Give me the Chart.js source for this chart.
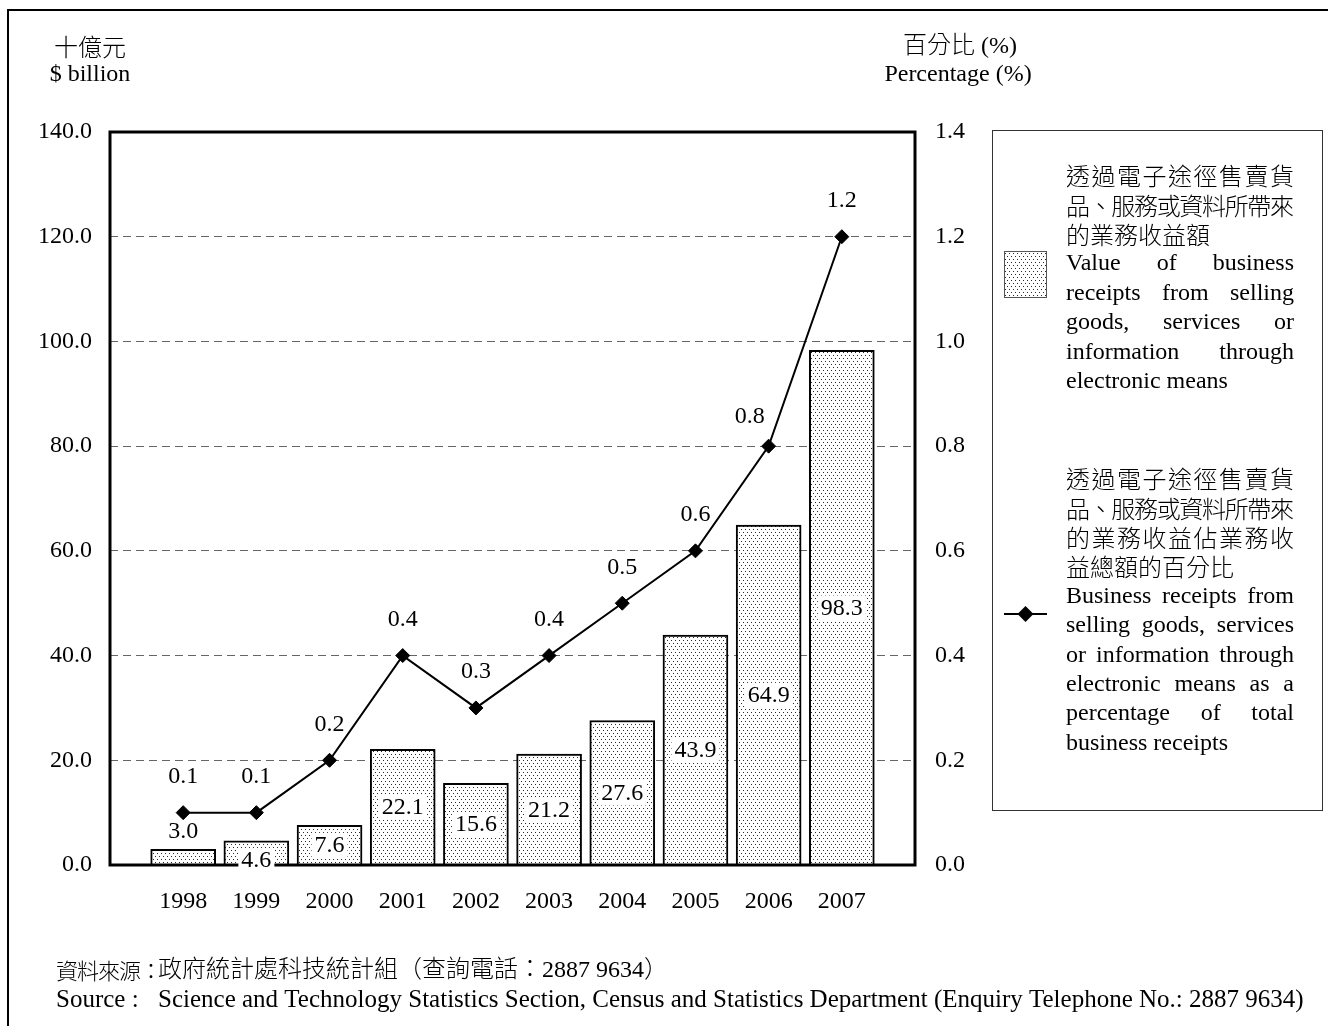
<!DOCTYPE html>
<html>
<head>
<meta charset="utf-8">
<script src="https://cdn.jsdelivr.net/npm/chart.js@4/dist/chart.umd.min.js"></script>
<style>
  html, body { margin: 0; padding: 0; background: #fff; }
  #wrap { width: 1328px; height: 1026px; position: relative; }
</style>
</head>
<body>
<div id="wrap"><canvas id="ecChart"></canvas></div>
<script>
// Business receipts from e-commerce sales, 1998-2007
const years = ['1998', '1999', '2000', '2001', '2002', '2003', '2004', '2005', '2006', '2007'];
const receiptsValue = [3.0, 4.6, 7.6, 22.1, 15.6, 21.2, 27.6, 43.9, 64.9, 98.3];   // $ billion
const receiptsShare = [0.1, 0.1, 0.2, 0.4, 0.3, 0.4, 0.5, 0.6, 0.8, 1.2];          // %

const leftAxis = { min: 0, max: 140, step: 20 };
const rightAxis = { min: 0, max: 1.4, step: 0.2 };

const leftTitle = ['十億元', '$ billion'];
const rightTitle = ['百分比 (%)', 'Percentage (%)'];

const barLegendZh = ['透過電子途徑售賣貨', '品、服務或資料所帶來', '的業務收益額'];
const barLegendEn = ['Value of business', 'receipts from selling', 'goods, services or', 'information through', 'electronic means'];
const lineLegendZh = ['透過電子途徑售賣貨', '品、服務或資料所帶來', '的業務收益佔業務收', '益總額的百分比'];
const lineLegendEn = ['Business receipts from', 'selling goods, services', 'or information through', 'electronic means as a', 'percentage of total', 'business receipts'];

const sourceZh = ['資料來源：', '政府統計處科技統計組（查詢電話：2887 9634）'];
const sourceEn = ['Source :', 'Science and Technology Statistics Section, Census and Statistics Department (Enquiry Telephone No.: 2887 9634)'];

const SERIF = '"Liberation Serif", "Noto Sans CJK TC", serif';
const CJK = '"Noto Sans CJK TC", "Liberation Serif", sans-serif';
const FS = 24;

// blank slot at each end so the years sit one step in from the frame
const labels = ['', ...years, ''];
const pad = arr => [null, ...arr, null];

// the 2006 percentage label sits left of its point, clear of the rising line
const lineLabelNudge = { 9: [-19, 7] };

function makeDots() {
  const c = document.createElement('canvas');
  c.width = 4; c.height = 6;
  const g = c.getContext('2d');
  g.fillStyle = '#fff';
  g.fillRect(0, 0, 4, 6);
  g.fillStyle = '#2a2a2a';
  g.fillRect(1, 1, 1, 1);
  g.fillRect(3, 4, 1, 1);
  return g.createPattern(c, 'repeat');
}
const dots = makeDots();

function drawJustified(ctx, tokens, x0, x1, y) {
  const widths = tokens.map(t => ctx.measureText(t).width);
  const total = widths.reduce((a, b) => a + b, 0);
  const gap = tokens.length > 1 ? (x1 - x0 - total) / (tokens.length - 1) : 0;
  let x = x0;
  tokens.forEach((t, i) => {
    ctx.fillText(t, x, y);
    x += widths[i] + gap;
  });
}

function drawParagraph(ctx, lines, isCjk, x0, x1, y0, lh) {
  lines.forEach((line, i) => {
    const y = y0 + i * lh;
    if (i === lines.length - 1) {
      ctx.fillText(line, x0, y);
    } else {
      drawJustified(ctx, isCjk ? Array.from(line) : line.split(' '), x0, x1, y);
    }
  });
}

const decorations = {
  id: 'decorations',
  afterDraw(chart) {
    const ctx = chart.ctx;
    const area = chart.chartArea;
    ctx.save();

    // outer frame (top and left edges only)
    ctx.strokeStyle = '#000';
    ctx.lineWidth = 2;
    ctx.beginPath();
    ctx.moveTo(8, 1026);
    ctx.lineTo(8, 10);
    ctx.lineTo(1328, 10);
    ctx.stroke();

    // plot box
    ctx.lineWidth = 3;
    ctx.strokeRect(area.left, area.top, area.right - area.left, area.bottom - area.top);

    // bar value labels
    ctx.font = FS + 'px ' + SERIF;
    ctx.textAlign = 'center';
    ctx.textBaseline = 'middle';
    const bars = chart.getDatasetMeta(0).data;
    bars.forEach((bar, i) => {
      const v = chart.data.datasets[0].data[i];
      if (v == null) return;
      const txt = v.toFixed(1);
      const h = bar.base - bar.y;
      if (h < 20) {
        ctx.fillStyle = '#000';
        ctx.fillText(txt, bar.x, bar.y - 18);
        return;
      }
      const y = Math.max((bar.y + bar.base) / 2, bar.y + 19);
      const w = ctx.measureText(txt).width;
      ctx.fillStyle = '#fff';
      ctx.fillRect(bar.x - w / 2 - 3, y - 12, w + 6, 25);
      ctx.fillStyle = '#000';
      ctx.fillText(txt, bar.x, y + 1);
    });

    // line value labels
    const pts = chart.getDatasetMeta(1).data;
    pts.forEach((p, i) => {
      const v = chart.data.datasets[1].data[i];
      if (v == null) return;
      const [dx, dy] = lineLabelNudge[i] || [0, 0];
      ctx.fillText(v.toFixed(1), p.x + dx, p.y - 36 + dy);
    });

    // axis titles
    ctx.font = '300 ' + FS + 'px ' + CJK;
    ctx.fillText(leftTitle[0], 90, 47);
    ctx.font = '300 ' + FS + 'px ' + SERIF;
    ctx.fillText(rightTitle[0], 960, 47);
    ctx.font = FS + 'px ' + SERIF;
    ctx.fillText(leftTitle[1], 90, 75);
    ctx.fillText(rightTitle[1], 958, 75);

    // legend box
    ctx.lineWidth = 1;
    ctx.strokeStyle = '#333';
    ctx.strokeRect(992.5, 130.5, 330, 680);

    ctx.textAlign = 'left';
    const lx0 = 1066, lx1 = 1294, lh = 29.4;

    ctx.font = '300 ' + FS + 'px ' + CJK;
    drawParagraph(ctx, barLegendZh, true, lx0, lx1, 176, lh);
    ctx.font = FS + 'px ' + SERIF;
    drawParagraph(ctx, barLegendEn, false, lx0, lx1, 176 + 3 * lh, lh);

    ctx.fillStyle = dots;
    ctx.fillRect(1004, 251, 43, 47);
    ctx.strokeStyle = '#555';
    ctx.strokeRect(1004.5, 251.5, 42, 46);

    ctx.fillStyle = '#000';
    ctx.font = '300 ' + FS + 'px ' + CJK;
    drawParagraph(ctx, lineLegendZh, true, lx0, lx1, 479, lh);
    ctx.font = FS + 'px ' + SERIF;
    drawParagraph(ctx, lineLegendEn, false, lx0, lx1, 479 + 4 * lh, lh);

    // line legend sample
    ctx.strokeStyle = '#000';
    ctx.lineWidth = 2;
    ctx.beginPath();
    ctx.moveTo(1004, 614);
    ctx.lineTo(1047, 614);
    ctx.stroke();
    ctx.beginPath();
    ctx.moveTo(1025.5, 606);
    ctx.lineTo(1033.5, 614);
    ctx.lineTo(1025.5, 622);
    ctx.lineTo(1017.5, 614);
    ctx.closePath();
    ctx.fill();

    // source note: the Chinese caption is set slightly condensed
    ctx.font = '300 22px ' + CJK;
    drawJustified(ctx, Array.from(sourceZh[0]), 56, 162, 971);
    ctx.font = '300 24px ' + SERIF;
    ctx.fillText(sourceZh[1], 158, 971);
    ctx.font = '25px ' + SERIF;
    ctx.fillText(sourceEn[0], 56, 1000);
    ctx.fillText(sourceEn[1], 158, 1000);

    ctx.restore();
  }
};

new Chart(document.getElementById('ecChart'), {
  type: 'bar',
  data: {
    labels: labels,
    datasets: [
      {
        label: 'Value of business receipts',
        data: pad(receiptsValue),
        yAxisID: 'y',
        backgroundColor: dots,
        borderColor: '#000',
        borderWidth: 2,
        barThickness: 65,
        order: 2
      },
      {
        type: 'line',
        label: 'Percentage of total business receipts',
        data: pad(receiptsShare),
        yAxisID: 'y1',
        borderColor: '#000',
        borderWidth: 2,
        pointStyle: 'rectRot',
        pointRadius: 7,
        pointBorderWidth: 1,
        pointBackgroundColor: '#000',
        pointBorderColor: '#000',
        fill: false,
        tension: 0,
        order: 1
      }
    ]
  },
  options: {
    responsive: true,
    maintainAspectRatio: false,
    animation: false,
    events: [],
    layout: { padding: { top: 132, left: 0, right: 0, bottom: 0 } },
    plugins: {
      legend: { display: false },
      tooltip: { enabled: false }
    },
    scales: {
      x: {
        type: 'category',
        offset: false,
        grid: { display: false, drawTicks: false },
        border: { display: false },
        ticks: {
          color: '#000',
          font: { family: SERIF, size: FS },
          padding: 22,
          maxRotation: 0,
          autoSkip: false
        },
        afterFit: scale => { scale.height = 161; }
      },
      y: {
        position: 'left',
        min: leftAxis.min,
        max: leftAxis.max,
        grid: {
          drawTicks: false,
          lineWidth: 1,
          color: c => (c.tick.value === leftAxis.min || c.tick.value === leftAxis.max) ? 'rgba(0,0,0,0)' : '#666'
        },
        border: { display: false, dash: [8, 5] },
        ticks: {
          stepSize: leftAxis.step,
          color: '#000',
          font: { family: SERIF, size: FS },
          padding: 18,
          callback: v => v.toFixed(1)
        },
        afterFit: scale => { scale.width = 110; }
      },
      y1: {
        position: 'right',
        min: rightAxis.min,
        max: rightAxis.max,
        grid: { display: false, drawTicks: false },
        border: { display: false },
        ticks: {
          stepSize: rightAxis.step,
          color: '#000',
          font: { family: SERIF, size: FS },
          padding: 20,
          callback: v => v.toFixed(1)
        },
        afterFit: scale => { scale.width = 413; }
      }
    }
  },
  plugins: [decorations]
});
</script>
</body>
</html>
